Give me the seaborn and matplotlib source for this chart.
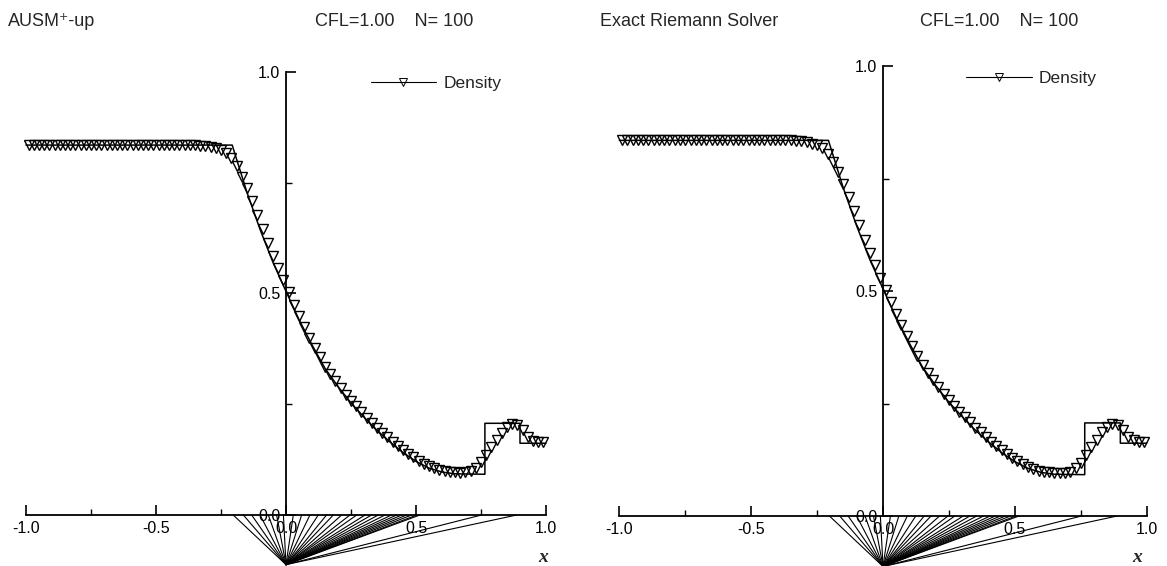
import numpy as np
import pandas as pd
import matplotlib
matplotlib.use("Agg")
import matplotlib.pyplot as plt
from matplotlib.lines import Line2D
import seaborn as sns

sns.set_theme(style="white")
plt.rcParams['font.family'] = ['Liberation Sans', 'DejaVu Sans']

# 网格单元中心 (N = 100)
n_cells = 100
x_cells = np.linspace(-0.99, 0.99, n_cells)

# 数值解密度
rho_num = [
    0.835, 0.835, 0.835, 0.835, 0.835, 0.835, 0.835, 0.835, 0.835, 0.835,
    0.835, 0.835, 0.835, 0.835, 0.835, 0.835, 0.835, 0.835, 0.835, 0.835,
    0.835, 0.835, 0.835, 0.835, 0.835, 0.835, 0.835, 0.835, 0.835, 0.835,
    0.835, 0.835, 0.835,
    0.834, 0.833, 0.831, 0.828, 0.824, 0.817, 0.805, 0.787, 0.764, 0.738,
    0.709, 0.678, 0.646, 0.614, 0.584, 0.557, 0.530, 0.503, 0.475, 0.449,
    0.424, 0.400, 0.378, 0.356, 0.335, 0.319, 0.302, 0.287, 0.272, 0.258,
    0.245, 0.232, 0.220, 0.208, 0.196, 0.186, 0.175, 0.165, 0.156, 0.147,
    0.138, 0.130, 0.122, 0.116, 0.110, 0.105, 0.101, 0.099, 0.097, 0.096,
    0.095, 0.096, 0.099, 0.107, 0.119, 0.135, 0.153, 0.170, 0.186, 0.199,
    0.205, 0.203, 0.191, 0.176, 0.168, 0.165, 0.165,
]

# 精确解 (折线)
exact_x = [-1.0, -0.207, -0.15, -0.10, -0.05, 0.0, 0.05, 0.10, 0.15, 0.20, 0.25,
           0.30, 0.35, 0.40, 0.45, 0.50, 0.55, 0.60, 0.65, 0.765, 0.765,
           0.90, 0.90, 1.0]
exact_rho = [0.835, 0.835, 0.728, 0.645, 0.570, 0.505, 0.441, 0.384, 0.331, 0.290,
             0.253, 0.221, 0.191, 0.165, 0.141, 0.121, 0.106, 0.097, 0.093, 0.092,
             0.207, 0.207, 0.162, 0.162]

# x-t 图中的特征线 (t=1 时的位置)
fan_ends = [-0.203, -0.164, -0.132, -0.100, -0.068, -0.036, -0.010, 0.028, 0.060,
            0.092, 0.124, 0.156, 0.182, 0.214, 0.246, 0.272, 0.304, 0.329, 0.355,
            0.381, 0.406, 0.426, 0.445, 0.464, 0.483, 0.503, 0.515, 0.752, 0.887]
fan_apex = -0.112

titles = ['AUSM\u207a-up', 'Exact Riemann Solver']
info = 'CFL=1.00    N= 100'

W, H = 1167, 566
fig = plt.figure(figsize=(W / 100, H / 100), dpi=100)

# 每个面板: 轴位置, xlim, ylim, 图例位置, x 标签位置
panels = [
    dict(rect=[0, 0, 583 / W, 1], xlim=(-1.1, 1.1423), ylim=(-0.1151, 1.1625),
         leg=(0.325, 0.975), xlab=(0.988, -0.095), tx=8, cx=315),
    dict(rect=[584 / W, 0, 583 / W, 1], xlim=(-1.134, 1.077), ylim=(-0.111, 1.147),
         leg=(0.315, 0.973), xlab=(0.963, -0.091), tx=600, cx=920),
]

num_df = pd.DataFrame({'x': x_cells, 'rho': rho_num})
exact_df = pd.DataFrame({'x': exact_x, 'rho': exact_rho})

for title, p in zip(titles, panels):
    ax = fig.add_axes(p['rect'])
    ax.set_facecolor('none')

    # 特征线扇
    for xe in fan_ends:
        ax.plot([0, xe], [fan_apex, 0], color='black', lw=0.8, clip_on=False, zorder=1)

    sns.lineplot(data=exact_df, x='x', y='rho', sort=False, estimator=None,
                 color='black', lw=1.1, ax=ax, zorder=3)
    sns.lineplot(data=num_df, x='x', y='rho', estimator=None, ax=ax,
                 linestyle='', marker='v', markersize=6.5, markerfacecolor='none',
                 markeredgecolor='black', markeredgewidth=1.0, zorder=4)

    ax.set_xlim(*p['xlim'])
    ax.set_ylim(*p['ylim'])
    ax.set_xlabel('')
    ax.set_ylabel('')

    for side in ['top', 'right']:
        ax.spines[side].set_visible(False)
    ax.spines['left'].set_position(('data', 0))
    ax.spines['bottom'].set_position(('data', 0))
    ax.spines['left'].set_bounds(0, 1)
    ax.spines['bottom'].set_bounds(-1, 1)
    for side in ['left', 'bottom']:
        ax.spines[side].set_linewidth(1.3)
        ax.spines[side].set_color('black')

    ax.set_xticks([-1.0, -0.5, 0.0, 0.5, 1.0])
    ax.set_xticklabels(['-1.0', '-0.5', '0.0', '0.5', '1.0'])
    ax.set_xticks([-0.75, -0.25, 0.25, 0.75], minor=True)
    ax.set_yticks([0.0, 0.5, 1.0])
    ax.set_yticklabels(['0.0', '0.5', '1.0'])
    ax.set_yticks([0.25, 0.75], minor=True)
    ax.tick_params(which='major', direction='in', length=7, width=1.2,
                   labelsize=11.5, colors='black', pad=4)
    ax.tick_params(which='minor', direction='in', length=4, width=1.0, colors='black')
    ax.tick_params(axis='x', which='both', bottom=True)
    ax.tick_params(axis='y', which='both', left=True)

    ax.text(p['xlab'][0], p['xlab'][1], 'x', fontsize=14, style='italic',
            fontweight='bold', family=['Liberation Serif', 'DejaVu Serif'],
            ha='center', va='center')

    handle = Line2D([], [], color='black', lw=0.8, marker='v', markersize=5.5,
                    markerfacecolor='none', markeredgecolor='black', markeredgewidth=0.7)
    ax.legend(handles=[handle], labels=['Density'], loc='center left',
              bbox_to_anchor=p['leg'], bbox_transform=ax.transData,
              frameon=False, handlelength=3.8, handletextpad=0.4,
              borderpad=0, borderaxespad=0, fontsize=12.5)

    fig.text(p['tx'] / W, 1 - 21 / H, title, fontsize=13, ha='left', va='center')
    fig.text(p['cx'] / W, 1 - 21 / H, info, fontsize=13, ha='left', va='center')

fig.savefig('out.png', dpi=100)
